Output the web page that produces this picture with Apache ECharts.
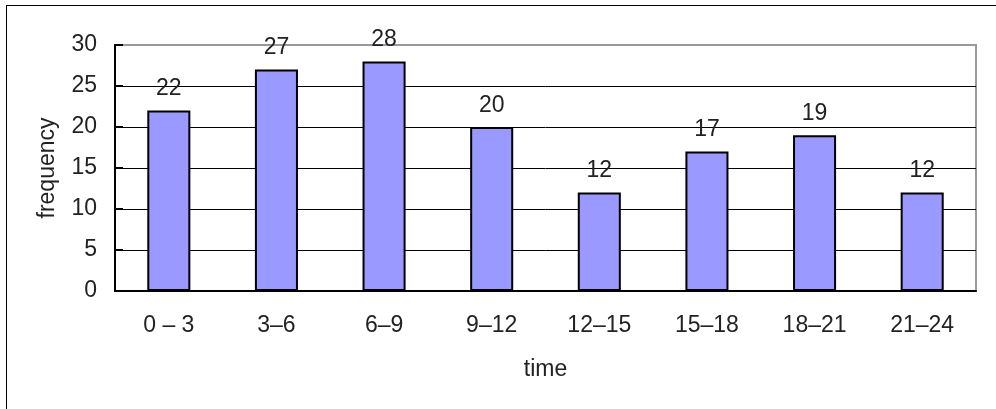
<!DOCTYPE html>
<html>
<head>
<meta charset="utf-8">
<script src="https://cdn.jsdelivr.net/npm/echarts@6/dist/echarts.min.js"></script>
<style>
  html, body { margin: 0; padding: 0; background: #fff; }
  #frame { position: absolute; left: 6px; top: 5px; width: 990px; height: 404px;
           border-left: 1px solid #000; border-top: 1px solid #000; box-sizing: border-box; }
  #chart { position: absolute; left: 0; top: 0; width: 996px; height: 409px; }
</style>
</head>
<body>
<div id="frame"></div>
<div id="chart"></div>
<script>
// Frequency per three-hour time band
const categories = ['0 \u2013 3', '3\u20136', '6\u20139', '9\u201312', '12\u201315', '15\u201318', '18\u201321', '21\u201324'];
const frequency = [22, 27, 28, 20, 12, 17, 19, 12];
const yTicks = [0, 5, 10, 15, 20, 25, 30];

const font = '"Liberation Sans", Arial, sans-serif';
const textColor = '#222';
const fontSize = 23;

const chart = echarts.init(document.getElementById('chart'));
chart.setOption({
  animation: false,
  grid: {
    left: 115, right: 20, top: 45, bottom: 118,
    show: true, borderColor: '#999', borderWidth: 2, backgroundColor: 'transparent'
  },
  xAxis: {
    type: 'category',
    data: categories,
    name: 'time',
    nameLocation: 'middle',
    nameGap: 67,
    nameTextStyle: { fontFamily: font, fontSize: fontSize, color: textColor },
    axisLine: { lineStyle: { color: '#000', width: 2 } },
    axisTick: { inside: true, length: 8, lineStyle: { color: '#000', width: 2 } },
    axisLabel: { fontFamily: font, fontSize: fontSize, color: textColor, margin: 23 }
  },
  yAxis: {
    type: 'value',
    min: yTicks[0],
    max: yTicks[yTicks.length - 1],
    interval: yTicks[1] - yTicks[0],
    name: 'frequency',
    nameLocation: 'middle',
    nameGap: 56,
    nameRotate: 90,
    nameTextStyle: { fontFamily: font, fontSize: fontSize, color: textColor },
    axisLine: { show: true, lineStyle: { color: '#000', width: 2 } },
    axisTick: { show: true, inside: true, length: 8, lineStyle: { color: '#000', width: 2 } },
    axisLabel: { fontFamily: font, fontSize: fontSize, color: textColor, margin: 18 },
    splitLine: { show: true, showMaxLine: false, lineStyle: { color: '#000', width: 1 } }
  },
  series: [{
    type: 'bar',
    data: frequency,
    barWidth: '40%',
    itemStyle: { color: '#9999ff', borderColor: '#000', borderWidth: 2 },
    label: {
      show: true,
      position: 'top',
      distance: 10,
      fontFamily: font,
      fontSize: fontSize,
      color: textColor
    }
  }]
});
</script>
</body>
</html>
